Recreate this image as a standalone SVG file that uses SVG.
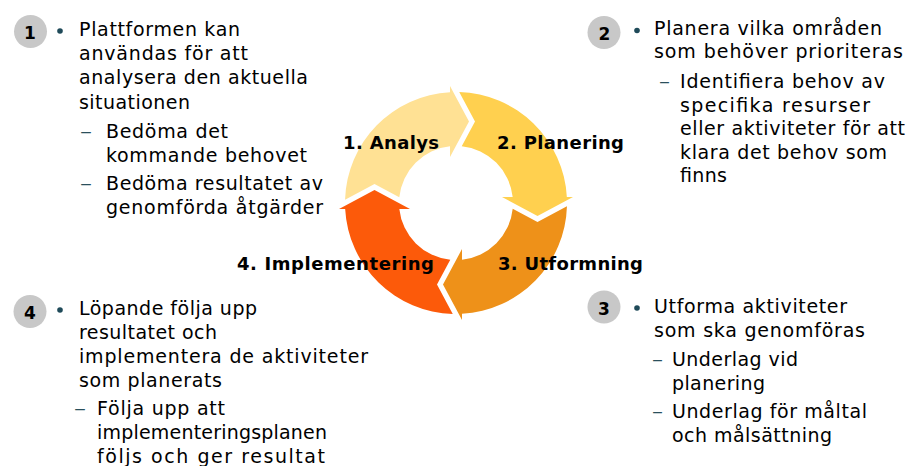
<svg xmlns="http://www.w3.org/2000/svg" width="909" height="466" viewBox="0 0 909 466">
<style>
.t{font-family:"DejaVu Sans","Verdana",sans-serif;font-size:19px;fill:#000}
.lbl{font-family:"DejaVu Sans","Verdana",sans-serif;font-size:18px;font-weight:bold;fill:#000}
.num{font-family:"DejaVu Sans","Verdana",sans-serif;font-size:17px;font-weight:bold;fill:#000;text-anchor:middle}
.badge{fill:#C8C8C8}
.dot{fill:#1F4A59}
.dash{font-family:"DejaVu Sans","Verdana",sans-serif;font-size:19px;fill:#2A4F5C}
</style>
<defs>
<path id="seg" d="M 459.24 92.05 A 111 111 0 0 1 566.84 197 L 573 197 L 537.5 216 L 502 197 L 512.68 197 A 57 57 0 0 0 461.73 146.29 L 475 121.5 Z"/>
</defs>
<rect width="909" height="466" fill="#fff"/>
<g id="cycle">
<g id="seg1"><use href="#seg" fill="#FFE194" transform="rotate(-90 456 203)"/></g>
<g id="seg2"><use href="#seg" fill="#FFD04F"/></g>
<g id="seg3"><use href="#seg" fill="#EE9119" transform="rotate(90 456 203)"/></g>
<g id="seg4"><use href="#seg" fill="#FC5A0A" transform="rotate(180 456 203)"/></g>
</g>
<g id="labels">
<text class="lbl" x="343" y="149" textLength="96" lengthAdjust="spacing">1. Analys</text>
<text class="lbl" x="497" y="149" textLength="127" lengthAdjust="spacing">2. Planering</text>
<text class="lbl" x="498" y="270" textLength="145" lengthAdjust="spacing">3. Utformning</text>
<text class="lbl" x="237" y="270" textLength="197" lengthAdjust="spacing">4. Implementering</text>
</g>
<g id="node1">
<circle class="badge" cx="30.5" cy="31.5" r="16.5"/>
<text class="num" x="30" y="39">1</text>
<circle class="dot" cx="60" cy="31" r="2.8"/>
<text class="t" x="79" y="36" textLength="161" lengthAdjust="spacing">Plattformen kan</text>
<text class="t" x="79" y="60" textLength="169" lengthAdjust="spacing">användas för att</text>
<text class="t" x="79" y="84" textLength="229" lengthAdjust="spacing">analysera den aktuella</text>
<text class="t" x="79" y="109" textLength="111" lengthAdjust="spacing">situationen</text>
<text class="dash" x="80" y="138" textLength="12" lengthAdjust="spacingAndGlyphs">–</text>
<text class="t" x="106" y="138" textLength="122" lengthAdjust="spacing">Bedöma det</text>
<text class="t" x="106" y="162" textLength="201" lengthAdjust="spacing">kommande behovet</text>
<text class="dash" x="80" y="190" textLength="12" lengthAdjust="spacingAndGlyphs">–</text>
<text class="t" x="106" y="190" textLength="217" lengthAdjust="spacing">Bedöma resultatet av</text>
<text class="t" x="106" y="214" textLength="217" lengthAdjust="spacing">genomförda åtgärder</text>
</g>
<g id="node2">
<circle class="badge" cx="604" cy="32.5" r="16.5"/>
<text class="num" x="604.5" y="40">2</text>
<circle class="dot" cx="637" cy="30.5" r="2.8"/>
<text class="t" x="654" y="35" textLength="228" lengthAdjust="spacing">Planera vilka områden</text>
<text class="t" x="654" y="58" textLength="249" lengthAdjust="spacing">som behöver prioriteras</text>
<text class="dash" x="659" y="88" textLength="11" lengthAdjust="spacingAndGlyphs">–</text>
<text class="t" x="680" y="88" textLength="205" lengthAdjust="spacing">Identifiera behov av</text>
<text class="t" x="680" y="112" textLength="190" lengthAdjust="spacing">specifika resurser</text>
<text class="t" x="680" y="135" textLength="225" lengthAdjust="spacing">eller aktiviteter för att</text>
<text class="t" x="680" y="159" textLength="207" lengthAdjust="spacing">klara det behov som</text>
<text class="t" x="680" y="182" textLength="47" lengthAdjust="spacing">finns</text>
</g>
<g id="node3">
<circle class="badge" cx="604" cy="307" r="16.5"/>
<text class="num" x="604" y="314.5">3</text>
<circle class="dot" cx="637" cy="308" r="2.8"/>
<text class="t" x="654" y="313" textLength="193" lengthAdjust="spacing">Utforma aktiviteter</text>
<text class="t" x="654" y="337" textLength="211" lengthAdjust="spacing">som ska genomföras</text>
<text class="dash" x="652" y="366" textLength="11" lengthAdjust="spacingAndGlyphs">–</text>
<text class="t" x="672" y="366" textLength="126" lengthAdjust="spacing">Underlag vid</text>
<text class="t" x="672" y="390" textLength="93" lengthAdjust="spacing">planering</text>
<text class="dash" x="652" y="418" textLength="11" lengthAdjust="spacingAndGlyphs">–</text>
<text class="t" x="672" y="418" textLength="195" lengthAdjust="spacing">Underlag för måltal</text>
<text class="t" x="672" y="442" textLength="160" lengthAdjust="spacing">och målsättning</text>
</g>
<g id="node4">
<circle class="badge" cx="30" cy="311.5" r="16.5"/>
<text class="num" x="30" y="319">4</text>
<circle class="dot" cx="60" cy="310" r="2.8"/>
<text class="t" x="79" y="315" textLength="178" lengthAdjust="spacing">Löpande följa upp</text>
<text class="t" x="79" y="339" textLength="138" lengthAdjust="spacing">resultatet och</text>
<text class="t" x="79" y="363" textLength="289" lengthAdjust="spacing">implementera de aktiviteter</text>
<text class="t" x="79" y="387" textLength="143" lengthAdjust="spacing">som planerats</text>
<text class="dash" x="74" y="415" textLength="12" lengthAdjust="spacingAndGlyphs">–</text>
<text class="t" x="97" y="415" textLength="128" lengthAdjust="spacing">Följa upp att</text>
<text class="t" x="97" y="439" textLength="230" lengthAdjust="spacing">implementeringsplanen</text>
<text class="t" x="97" y="463" textLength="228" lengthAdjust="spacing">följs och ger resultat</text>
</g>
</svg>
